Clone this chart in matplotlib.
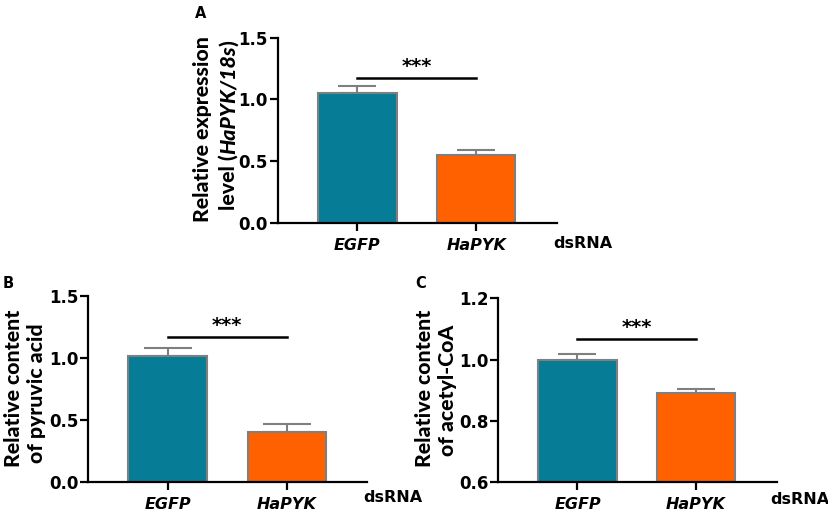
import matplotlib
matplotlib.use("Agg")
import matplotlib.pyplot as plt

plt.rcParams['font.family'] = ['DejaVu Sans']

LAB_FAMILY = ["Lato", "Liberation Sans", "DejaVu Sans"]
LAB_WEIGHT = "black"

categories = ["EGFP", "HaPYK"]
colors = ["#077c97", "#ff6000"]

a_values = [1.052, 0.549]
a_errors = [0.06, 0.043]
b_values = [1.02, 0.40]
b_errors = [0.064, 0.07]
c_values = [1.0, 0.891]
c_errors = [0.018, 0.014]

a_ticks = [0.0, 0.5, 1.0, 1.5]
b_ticks = [0.0, 0.5, 1.0, 1.5]
c_ticks = [0.6, 0.8, 1.0, 1.2]

a_label = [[("Relative expression", "normal")],
           [("level (", "normal"), ("HaPYK/18s", "italic"), (")", "normal")]]
b_label = [[("Relative content", "normal")], [("of pyruvic acid", "normal")]]
c_label = [[("Relative content", "normal")], [("of acetyl-CoA", "normal")]]

sig_y = {"A": 1.17, "B": 1.167, "C": 1.067}

W, H = 829, 511
fig = plt.figure(figsize=(W / 100, H / 100), dpi=100)
renderer = fig.canvas.get_renderer()


def text_width(s, size, style="normal"):
    t = fig.text(0, 0, s, fontsize=size, fontweight=LAB_WEIGHT, style=style,
                 family=LAB_FAMILY)
    w = t.get_window_extent(renderer).width
    t.remove()
    return w


# size the axis titles so the first line of panel A spans ~185 px
LAB_SIZE = 10 * 185 / text_width("Relative expression", 10)


def frac(x0, y_top, x1, y_bot):
    return [x0 / W, 1 - y_bot / H, (x1 - x0) / W, (y_bot - y_top) / H]


def rot_line(pieces, x_base, y_center):
    widths = [text_width(s, LAB_SIZE, st) for s, st in pieces]
    total = sum(widths)
    y = (H - y_center) - total / 2
    for (s, st), w in zip(pieces, widths):
        fig.text(x_base / W, y / H, s, fontsize=LAB_SIZE,
                 fontweight=LAB_WEIGHT, style=st, family=LAB_FAMILY,
                 rotation=90, rotation_mode="anchor", ha="left",
                 va="baseline")
        y += w


def panel(rect, values, errors, ticks, label, label_geo, letter, sig,
          letter_pos, xlim, capsize, ds_pos):
    ax = fig.add_axes(rect)
    x = list(range(len(categories)))
    ax.bar(x, values, width=0.66, color=colors, edgecolor="#7f7f7f",
           linewidth=1.5, zorder=2)
    ax.errorbar(x, values, yerr=[[0] * len(errors), errors], fmt="none",
                ecolor="#7f7f7f", elinewidth=1.5, capsize=capsize,
                capthick=1.5, zorder=1)
    ax.set_xlim(*xlim)
    ax.set_ylim(ticks[0], ticks[-1])
    ax.set_yticks(ticks)
    ax.set_yticklabels([f"{t:.1f}" for t in ticks], fontsize=12,
                       fontweight="bold")
    ax.set_xticks(x)
    ax.set_xticklabels(categories, fontsize=11.5, fontweight="bold",
                       style="italic")
    for s in ["top", "right"]:
        ax.spines[s].set_visible(False)
    for s in ["left", "bottom"]:
        ax.spines[s].set_linewidth(1.6)
        ax.spines[s].set_color("black")
    ax.tick_params(axis="y", width=1.6, length=6, direction="out", pad=1)
    ax.tick_params(axis="x", width=1.6, length=6, direction="out", pad=5)
    for line, (xb, yc) in zip(label, label_geo):
        rot_line(line, xb, yc)
    ax.plot([0, 1], [sig, sig], color="black", lw=1.8, clip_on=False)
    ax.text(0.5, sig + (ticks[-1] - ticks[0]) * 0.012, "***", ha="center",
            va="bottom", fontsize=14, fontweight="bold")
    fig.text(ds_pos[0] / W, 1 - ds_pos[1] / H, "dsRNA", ha="left",
             va="center", fontsize=11.5, fontweight="bold")
    fig.text(letter_pos[0] / W, 1 - letter_pos[1] / H, letter,
             fontsize=10.5, fontweight="bold", ha="left", va="center")
    return ax


axA = panel(frac(277.7, 37.7, 557, 223), a_values, a_errors, a_ticks,
            a_label, [(209, 129.5), (235, 125)], "A",
            sig_y["A"], (195, 13), (-0.67, 1.68), 14, (553, 243))
axB = panel(frac(88.3, 296, 367, 482), b_values, b_errors, b_ticks,
            b_label, [(20, 388), (43, 393)], "B",
            sig_y["B"], (3, 283), (-0.663, 1.67), 17, (363, 497))
axC = panel(frac(498.3, 298.3, 777, 482), c_values, c_errors, c_ticks,
            c_label, [(431, 388), (454, 390)], "C",
            sig_y["C"], (415, 283), (-0.668, 1.683), 14, (770, 500))

fig.savefig("out.png", dpi=100)
